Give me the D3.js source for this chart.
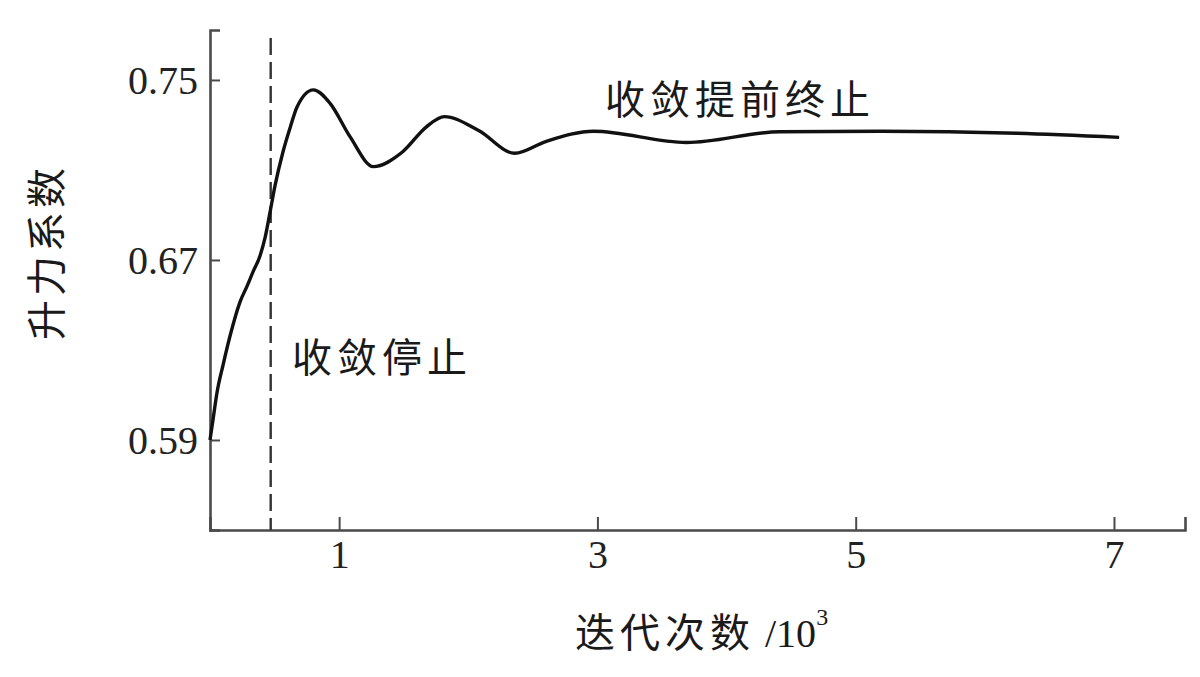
<!DOCTYPE html>
<html>
<head>
<meta charset="utf-8">
<script src="https://cdn.jsdelivr.net/npm/d3@7"></script>
<style>
  html, body { margin: 0; padding: 0; background: #fff; }
  svg { display: block; }
</style>
</head>
<body>
<svg id="chart" width="1200" height="677"></svg>
<script>
// ---- data (iterations in 10^3, lift coefficient) ----
const iterX = [0, 0.023, 0.054, 0.101, 0.155, 0.232, 0.287, 0.333, 0.387, 0.426, 0.465, 0.503, 0.565, 0.620, 0.674, 0.80, 0.93, 1.084, 1.265, 1.49, 1.678, 1.815, 2.08, 2.36, 2.6, 2.97, 3.69, 4.41, 5.2, 6.25, 7.04];
const liftY = [0.590, 0.5989, 0.611, 0.6233, 0.6362, 0.6513, 0.6584, 0.6647, 0.6718, 0.6798, 0.6913, 0.7029, 0.718, 0.7287, 0.738, 0.7456, 0.7396, 0.7248, 0.7115, 0.7180, 0.7293, 0.7337, 0.7275, 0.7174, 0.7226, 0.7272, 0.7222, 0.7270, 0.7272, 0.7263, 0.7245];
const xTicks = [1, 3, 5, 7];
const yTicks = [0.59, 0.67, 0.75];
const stopX = 0.47;              // 收敛停止 position
const xDomain = [0, 7.55];
const yDomain = [0.55, 0.7722];
const xLabelMain = "迭代次数";
const xLabelUnit = " /10";
const xLabelExp = "3";
const yLabel = "升力系数";
const noteEarly = "收敛提前终止";
const noteStop = "收敛停止";

(function () {
const svg = d3.select("#chart");
const mLeft = 210, mRight = 1185, mTop = 30, mBottom = 530;

const x = d3.scaleLinear().domain(xDomain).range([mLeft, mRight]);
const y = d3.scaleLinear().domain(yDomain).range([mBottom, mTop]);

const serif = "'Liberation Serif', 'Times New Roman', serif";
const cjk = "'Noto Sans CJK SC', 'Noto Sans', sans-serif";
const axisColor = "#4a4a4a";

// x axis
const gx = svg.append("g")
  .attr("transform", `translate(0,${mBottom})`)
  .call(d3.axisBottom(x).tickValues(xTicks).tickFormat(d3.format("d"))
    .tickSizeInner(-13).tickSizeOuter(-13).tickPadding(10));
// y axis
const gy = svg.append("g")
  .attr("transform", `translate(${mLeft},0)`)
  .call(d3.axisLeft(y).tickValues(yTicks).tickFormat(d3.format(".2f"))
    .tickSizeInner(-10).tickSizeOuter(-10).tickPadding(12));

[gx, gy].forEach(g => {
  g.select(".domain").attr("stroke", axisColor).attr("stroke-width", 2.6).attr("fill", "none");
  g.selectAll(".tick line").attr("stroke", axisColor).attr("stroke-width", 2);
  g.selectAll(".tick text").attr("fill", "#222").style("font-family", serif).style("font-size", "40px");
});
gy.selectAll(".tick text").attr("dy", "0.34em");

// dashed stop line
svg.append("line")
  .attr("x1", x(stopX)).attr("x2", x(stopX))
  .attr("y1", y(yDomain[1]) + 8).attr("y2", mBottom)
  .attr("stroke", "#333").attr("stroke-width", 2.4)
  .attr("stroke-dasharray", "17,7");

// curve
const pts = iterX.map((v, i) => [v, liftY[i]]);
svg.append("path")
  .datum(pts)
  .attr("fill", "none")
  .attr("stroke", "#111")
  .attr("stroke-width", 3.4)
  .attr("stroke-linejoin", "round")
  .attr("d", d3.line().x(d => x(d[0])).y(d => y(d[1])).curve(d3.curveMonotoneX));

// annotations
svg.append("text")
  .attr("x", 605).attr("y", 97)
  .attr("dominant-baseline", "central")
  .style("font-family", cjk).style("font-size", "40px").style("letter-spacing", "5px")
  .attr("fill", "#1a1a1a")
  .text(noteEarly);

svg.append("text")
  .attr("x", 292).attr("y", 355)
  .attr("dominant-baseline", "central")
  .style("font-family", cjk).style("font-size", "40px").style("letter-spacing", "5px")
  .attr("fill", "#1a1a1a")
  .text(noteStop);

// y label
svg.append("text")
  .attr("transform", "translate(44,252) rotate(-90)")
  .attr("text-anchor", "middle")
  .attr("dominant-baseline", "central")
  .style("font-family", cjk).style("font-size", "40px").style("letter-spacing", "4px")
  .attr("fill", "#1a1a1a")
  .text(yLabel);

// x label
const xl = svg.append("text")
  .attr("x", 575).attr("y", 647)
  .attr("fill", "#1a1a1a");
xl.append("tspan").style("font-family", cjk).style("font-size", "40px").style("letter-spacing", "5px").text(xLabelMain);
xl.append("tspan").style("font-family", serif).style("font-size", "40px").text(xLabelUnit);
xl.append("tspan").style("font-family", serif).style("font-size", "24px").attr("dy", "-22").text(xLabelExp);
})();
</script>
</body>
</html>
